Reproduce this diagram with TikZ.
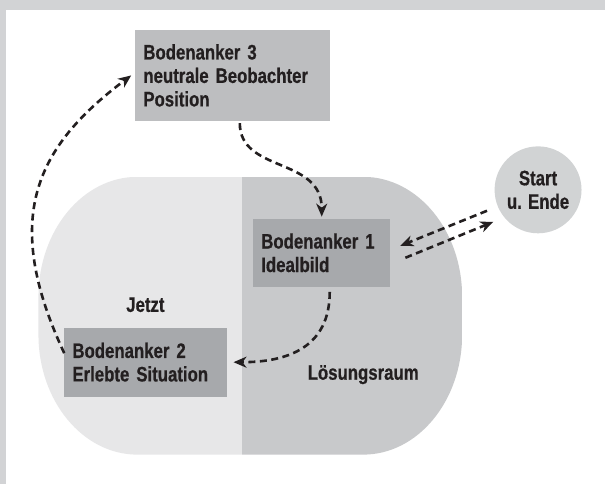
\documentclass[tikz,border=0pt]{standalone}
\usepackage{fontspec}
\setmainfont[FakeStretch=0.8,BoldFeatures={FakeBold=0.6}]{Liberation Sans}
\usepackage{color}
\definecolor{myframe}{RGB}{210,211,213}
\definecolor{mynow}{RGB}{231,231,232}
\definecolor{mysolution}{RGB}{200,201,203}
\definecolor{myanchor}{RGB}{167,169,172}
\definecolor{myobserver}{RGB}{189,190,192}
\definecolor{mystart}{RGB}{209,211,212}
\definecolor{myink}{RGB}{35,31,32}
\usepackage{tikz}
\usetikzlibrary{arrows.meta,positioning}
\tikzstyle{anchorbox}=[fill=myanchor,text=myink,inner xsep=8pt,inner ysep=0pt,align=left,font=\fontsize{21}{23.5}\selectfont\bfseries]
\tikzstyle{startvertex}=[fill=mystart,circle,minimum size=87pt,inner sep=0pt,align=center,text=myink,font=\fontsize{21}{23.5}\selectfont\bfseries]
\tikzstyle{arealabel}=[text=myink,inner sep=0pt,font=\fontsize{21}{23.5}\selectfont\bfseries]
\tikzstyle{flow}=[draw=myink,line width=2.6pt,dash pattern=on 7pt off 4.5pt,-{Stealth[length=13pt,width=11pt,inset=4pt]}]

\begin{document}
\begin{tikzpicture}[x=1pt,y=1pt]
\fill[myframe] (0,0) rectangle (605,484);
\fill[white] (6,0) rectangle (605,474);
% the two halves of the room
\begin{scope}
  \clip (137,307) -- (363,307) arc[start angle=90,end angle=0,x radius=99,y radius=120]
    -- (462,149) arc[start angle=0,end angle=-90,x radius=99,y radius=120]
    -- (137,29) arc[start angle=270,end angle=180,x radius=99,y radius=120]
    -- (38,187) arc[start angle=180,end angle=90,x radius=99,y radius=120] -- cycle;
  \fill[mynow] (38,29) rectangle (242,307);
  \fill[mysolution] (242,29) rectangle (462,307);
\end{scope}

\node [anchorbox,fill=myobserver,text width=179pt,minimum height=91pt] (b3) at (232.5,408.5) {Bodenanker 3\\neutrale Beobachter\\Position};
\node [anchorbox,text width=121pt,minimum height=68pt] (b1) at (321.5,231) {Bodenanker 1\\Idealbild};
\node [anchorbox,text width=147pt,minimum height=69pt] (b2) at (145.5,121.5) {Bodenanker 2\\Erlebte Situation};
\node [startvertex] (se) at (538,294) {Start\\u. Ende};
\node [arealabel] (now) at (145,179) {Jetzt};
\node [arealabel] (solution) at (363,109) {Lösungsraum};

\draw[flow] ([xshift=7pt,yshift=-2pt]b3.south) .. controls +(0,-50) and +(0,60) .. ([yshift=2pt]b1.north);
\draw[flow] ([xshift=8pt,yshift=-5pt]b1.south) .. controls +(0,-55) and +(55,0) .. ([xshift=6pt]b2.east);
\draw[flow] ([yshift=9pt]b2.west) .. controls +(-63,135) and +(-96,-72) .. ([xshift=-4pt]b3.west);
\draw[flow] ([shift={(-10,-6)}]se.200) -- ([shift={(10,7)}]b1.east);
\draw[flow] ([shift={(15,-5)}]b1.east) -- ([shift={(-9,-7)}]se.215);
\end{tikzpicture}
\end{document}
